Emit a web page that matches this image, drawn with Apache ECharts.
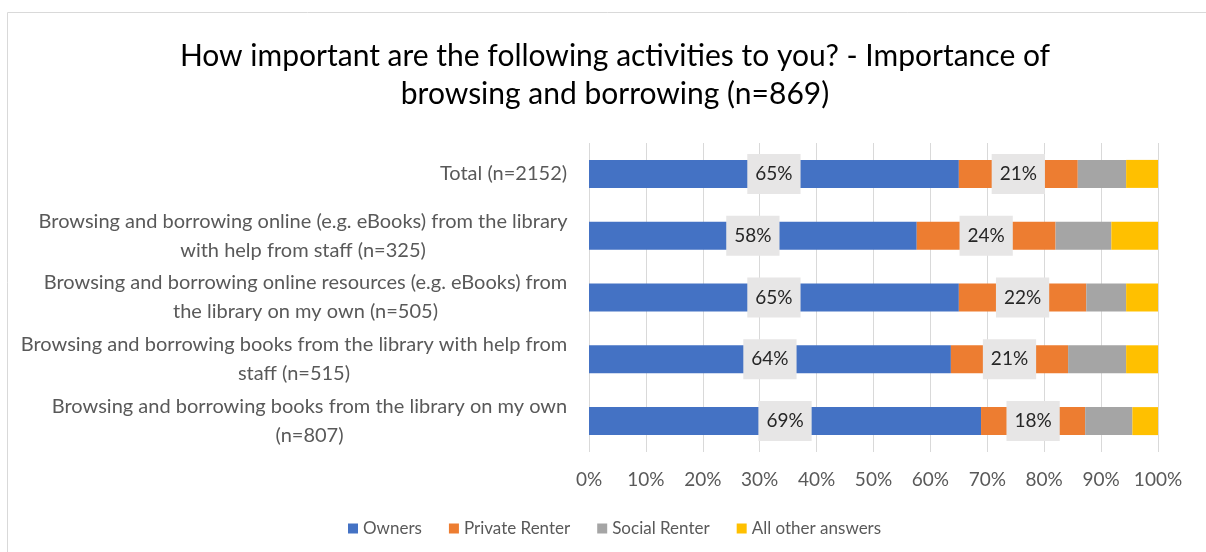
<!DOCTYPE html>
<html><head><meta charset="utf-8">
<script src="https://cdn.jsdelivr.net/npm/echarts@6/dist/echarts.min.js"></script>
<style>html,body{margin:0;padding:0;background:#fff}#c{width:1206px;height:552px}</style>
</head><body><div id="c"></div>
<script>
const categories = [
  "Total (n=2152)",
  "Browsing and borrowing online (e.g. eBooks) from the library\nwith help from staff (n=325)",
  "Browsing and borrowing online resources (e.g. eBooks) from\nthe library on my own (n=505)",
  "Browsing and borrowing books from the library with help from\nstaff (n=515)",
  "Browsing and borrowing books from the library on my own\n(n=807)"
];
const seriesNames = ["Owners", "Private Renter", "Social Renter", "All other answers"];
const owners = [65.0, 57.6, 65.0, 63.6, 68.9];
const privateRenter = [20.9, 24.4, 22.4, 20.6, 18.3];
const socialRenter = [8.5, 9.8, 7.0, 10.2, 8.3];
const otherAnswers = [5.6, 8.2, 5.6, 5.6, 4.5];
const xTicks = [0, 10, 20, 30, 40, 50, 60, 70, 80, 90, 100];

const FONT = "Lato";
const colors = ["#4472c4", "#ed7d31", "#a5a5a5", "#ffc000"];

// measure widths for centered multi-line labels
const cv = document.createElement('canvas').getContext('2d');
cv.font = "20px " + FONT;
const rich = {};
categories.forEach((c, i) => {
  const w = Math.max(...c.split('\n').map(s => cv.measureText(s).width));
  rich['t' + i] = {width: Math.ceil(w) + 1, align: 'center', fontSize: 20, fontFamily: FONT, color: '#595959', lineHeight: 29};
});

const chart = echarts.init(document.getElementById('c'), null, {renderer: 'canvas'});
const dataArrays = [owners, privateRenter, socialRenter, otherAnswers];
const series = seriesNames.map((name, i) => ({
  name,
  type: 'bar',
  stack: 'total',
  barWidth: 28,
  itemStyle: {color: colors[i]},
  data: dataArrays[i],
  label: {
    show: i < 2,
    position: 'inside',
    formatter: p => Math.round(p.value) + '%',
    fontFamily: FONT,
    fontSize: 19,
    color: '#262626',
    backgroundColor: '#e7e6e6',
    padding: [11, 8, 10, 8]
  }
}));

chart.setOption({
  animation: false,
  textStyle: {fontFamily: FONT},
  graphic: [{
    type: 'rect', shape: {x: 7.5, y: 12.5, width: 1230, height: 600},
    style: {fill: null, stroke: '#d9d9d9', lineWidth: 1}, silent: true, z: -10
  }],
  title: {
    text: "How important are the following activities to you? - Importance of\nbrowsing and borrowing (n=869)",
    left: 610, top: 32, textAlign: 'center',
    textStyle: {fontFamily: FONT, fontSize: 30, fontWeight: 'normal', color: '#000', lineHeight: 38}
  },
  legend: {
    data: seriesNames,
    left: 343, top: 515,
    icon: 'rect', itemWidth: 10, itemHeight: 10, itemGap: 27,
    textStyle: {fontFamily: FONT, fontSize: 17, color: '#595959'}
  },
  grid: {left: 589, right: 48, top: 143, bottom: 100},
  xAxis: {
    type: 'value', min: 0, max: 100, interval: 10,
    axisLabel: {formatter: v => v + '%', fontFamily: FONT, fontSize: 19, color: '#595959', margin: 18},
    splitLine: {lineStyle: {color: '#d9d9d9', width: 1}},
    axisLine: {show: false}, axisTick: {show: false}
  },
  yAxis: {
    type: 'category', data: categories, inverse: true,
    axisLine: {show: false}, axisTick: {show: false},
    axisLabel: {
      margin: 21, align: 'right',
      formatter: (v, i) => v.split('\n').map(s => '{t' + i + '|' + s + '}').join('\n'),
      rich
    }
  },
  series
});
</script></body></html>
